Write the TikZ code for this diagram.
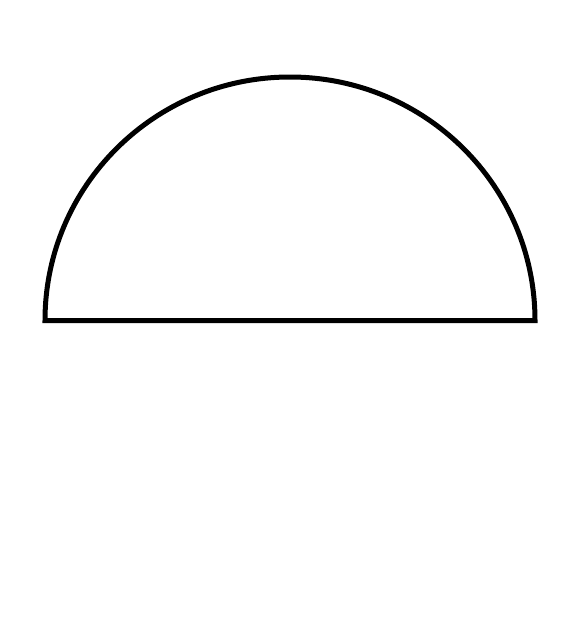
\documentclass[tikz,border=0pt]{standalone}
\begin{document}
\begin{tikzpicture}[x=1pt,y=-1pt]
\useasboundingbox (0,0) rectangle (585,640);
\coordinate (c) at (290,320.5);
\draw[line width=5pt, line join=miter] (45,320.5) arc[start angle=180, end angle=0, x radius=245, y radius=-243.5] -- cycle;
\end{tikzpicture}
\end{document}
